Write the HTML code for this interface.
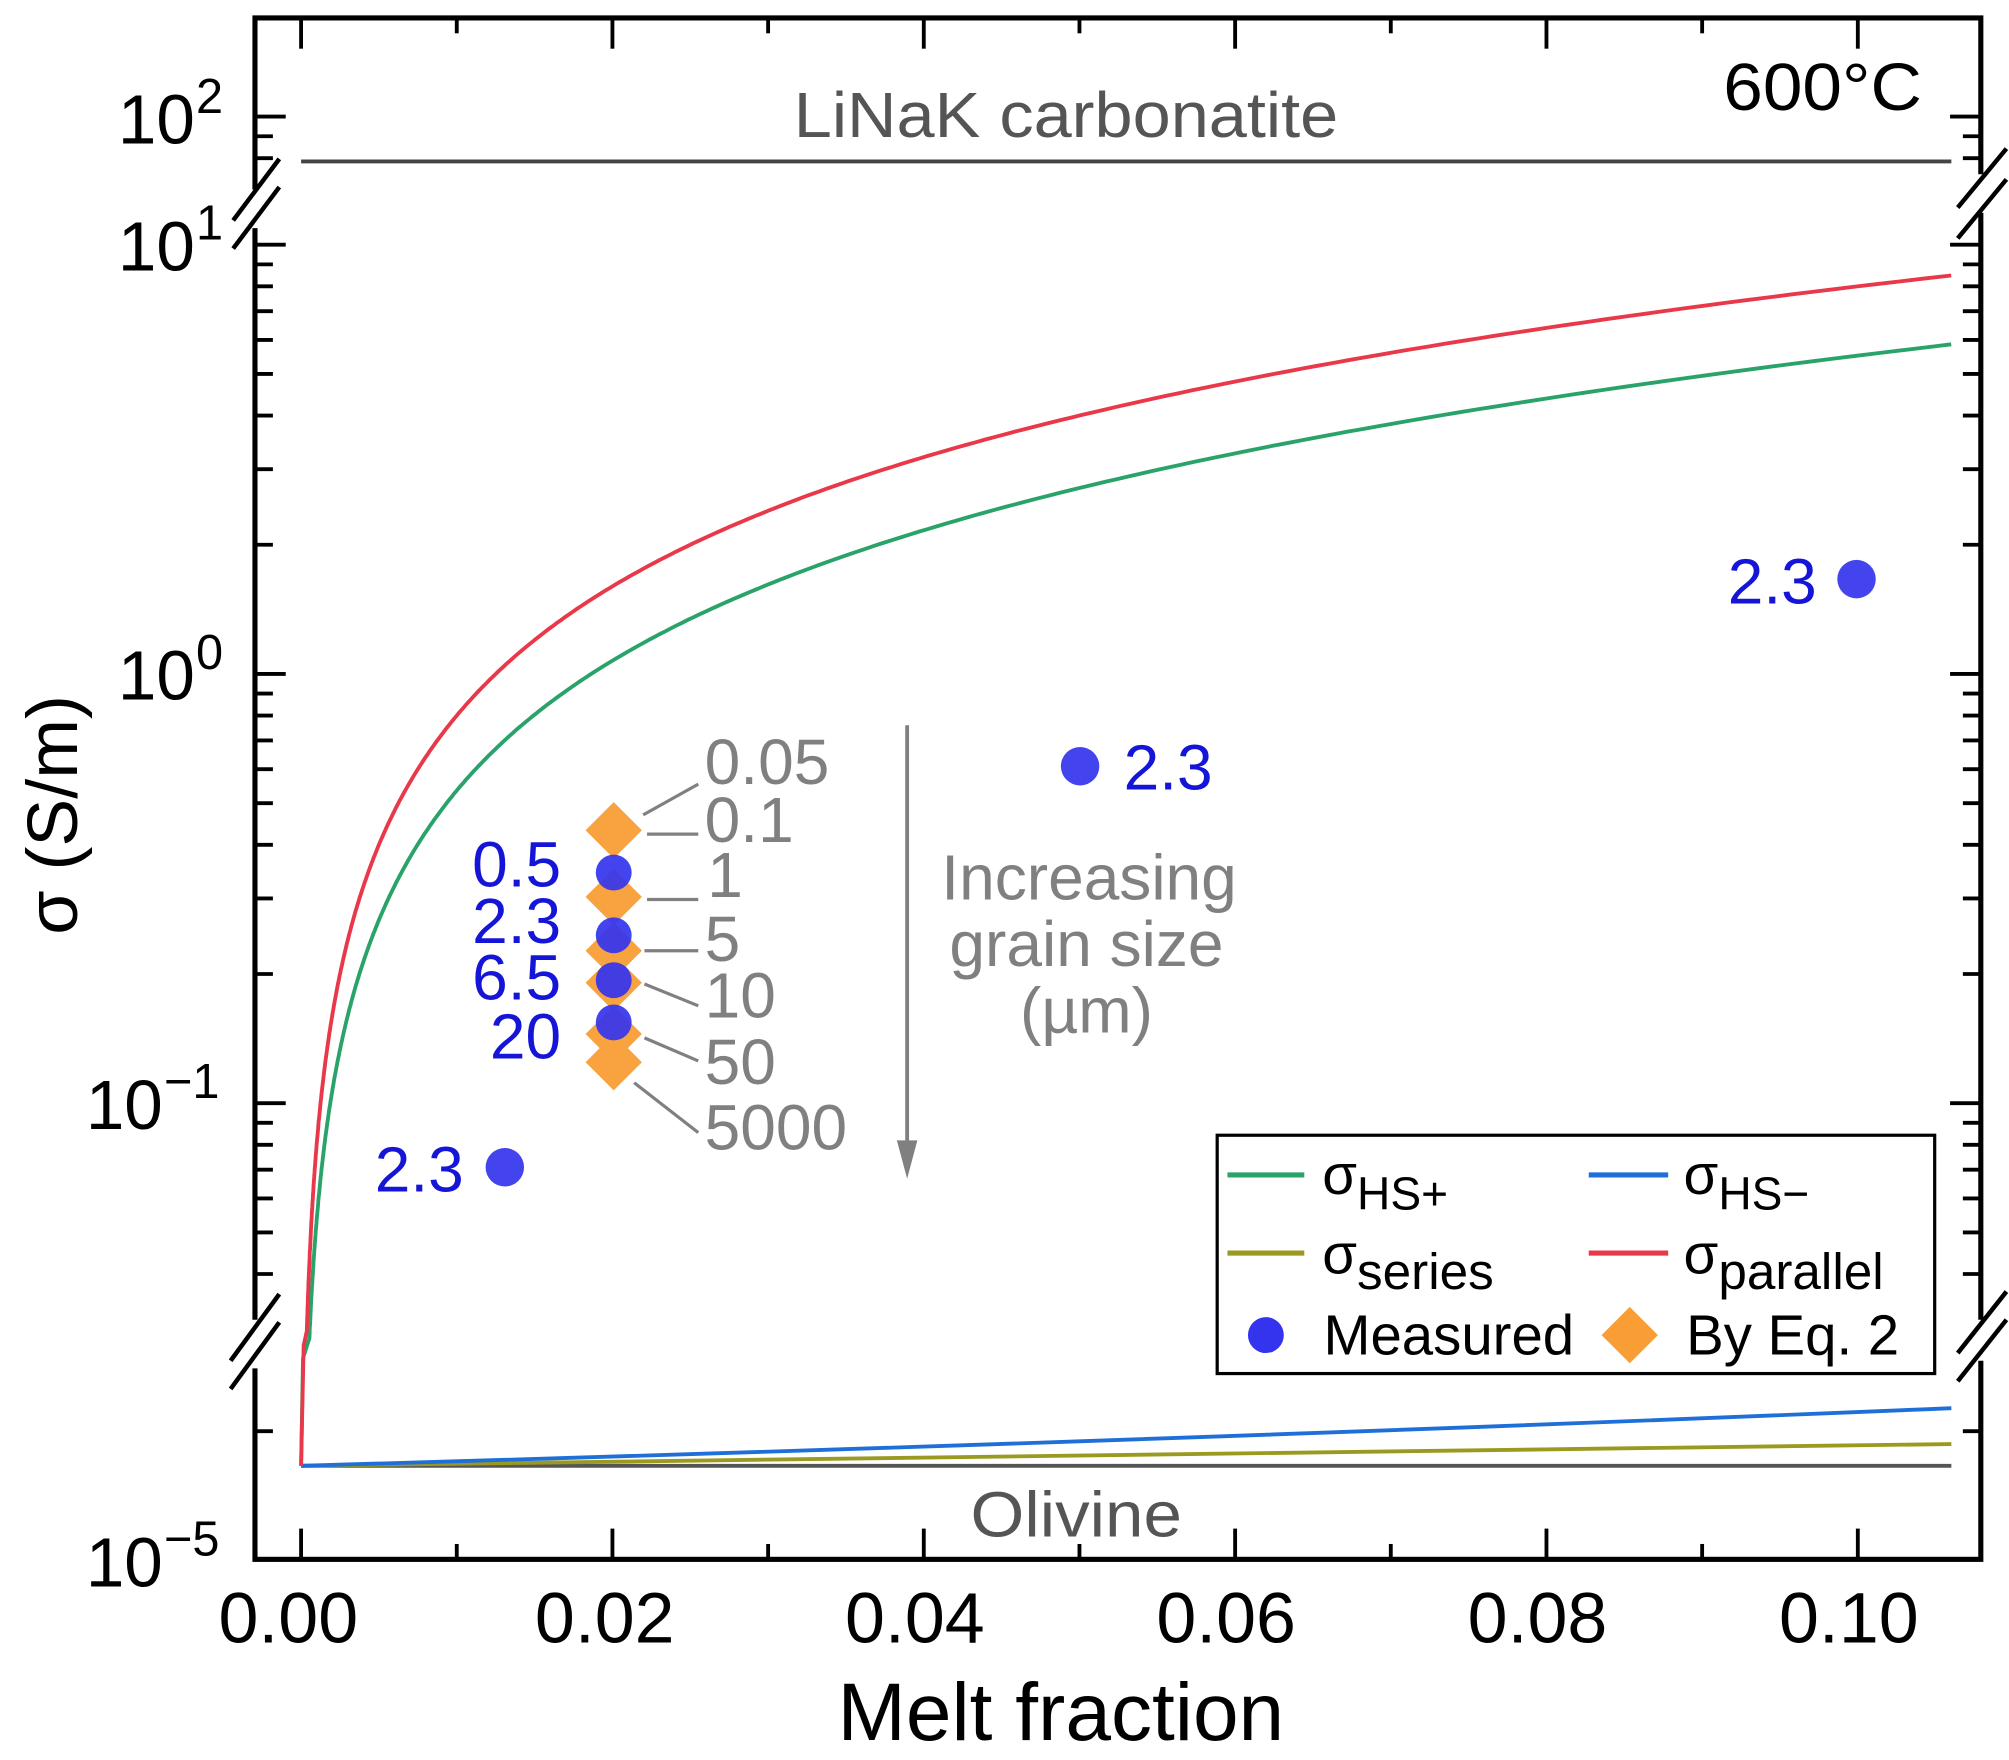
<!DOCTYPE html>
<html><head><meta charset="utf-8"><style>
html,body{margin:0;padding:0;background:#fff}
svg{display:block}
text{font-family:"Liberation Sans",Arial,sans-serif}
</style></head><body>
<svg id="s" width="2009" height="1760" viewBox="0 0 1568 1373.6" preserveAspectRatio="none" xmlns="http://www.w3.org/2000/svg">
<rect x="0" y="0" width="1568" height="1374" fill="#fff"/>
<g id="ticks" stroke="#000" stroke-width="3"></g>
<!-- horizontal reference lines -->
<line x1="235" y1="126" x2="1523" y2="126" stroke="#444" stroke-width="3"/>
<text x="832" y="107" font-size="50" fill="#555" text-anchor="middle" textLength="425" lengthAdjust="spacingAndGlyphs">LiNaK carbonatite</text>
<text x="1500" y="86" font-size="52" fill="#000" text-anchor="end" textLength="155" lengthAdjust="spacingAndGlyphs">600°C</text>
<line x1="235" y1="1144" x2="1523" y2="1144" stroke="#555" stroke-width="3"/>
<text x="840" y="1199" font-size="50" fill="#555" text-anchor="middle" textLength="165" lengthAdjust="spacingAndGlyphs">Olivine</text>
<path d="M235,1144 L1523,1127" stroke="#9a9a20" stroke-width="3" fill="none"/>
<path d="M235,1144 Q900,1125 1523,1099" stroke="#1f6fd8" stroke-width="3" fill="none"/>
<path id="green" stroke="#2aa36a" stroke-width="3" fill="none"/>
<path id="red" stroke="#e8384a" stroke-width="3" fill="none"/>
<!-- axes frame -->
<rect x="199" y="14" width="1347" height="1203" fill="none" stroke="#000" stroke-width="4"/>
<!-- break marks -->
<g stroke="#fff" stroke-width="14">
<line x1="199" y1="148" x2="199" y2="178"/><line x1="199" y1="1030" x2="199" y2="1068"/>
<line x1="1546" y1="136" x2="1546" y2="166"/><line x1="1546" y1="1030" x2="1546" y2="1062"/>
</g>
<g stroke="#000" stroke-width="3.5">
<line x1="182" y1="172" x2="218" y2="124"/><line x1="182" y1="194" x2="218" y2="146"/>
<line x1="180" y1="1062" x2="218" y2="1010"/><line x1="180" y1="1084" x2="218" y2="1032"/>
<line x1="1528" y1="162" x2="1566" y2="116"/><line x1="1528" y1="186" x2="1566" y2="140"/>
<line x1="1528" y1="1056" x2="1566" y2="1008"/><line x1="1528" y1="1078" x2="1566" y2="1030"/>
</g>
<!-- y tick labels -->
<g font-size="54" fill="#000">
<text x="92" y="112">10</text><text x="153" y="88" font-size="38">2</text>
<text x="92" y="211">10</text><text x="153" y="187" font-size="38">1</text>
<text x="92" y="546">10</text><text x="153" y="522" font-size="38">0</text>
<text x="67" y="881">10</text><text x="128" y="857" font-size="38">−1</text>
<text x="67" y="1238">10</text><text x="128" y="1214" font-size="38">−5</text>
</g>
<g font-size="56" fill="#000" text-anchor="middle">
<text x="225" y="1282">0.00</text><text x="472" y="1282">0.02</text><text x="714" y="1282">0.04</text>
<text x="957" y="1282">0.06</text><text x="1200" y="1282">0.08</text><text x="1443" y="1282">0.10</text>
</g>
<text x="828" y="1358" font-size="64" text-anchor="middle" fill="#000">Melt fraction</text>
<text transform="translate(60,636) rotate(-90)" font-size="56" text-anchor="middle" fill="#000">σ (S/m)</text>
<!-- arrow -->
<line x1="708" y1="566" x2="708" y2="895" stroke="#808080" stroke-width="3"/>
<polygon points="700,890 716,890 708,920" fill="#808080"/>
<g font-size="50" fill="#808080" text-anchor="middle">
<text x="850" y="702">Increasing</text><text x="848" y="754">grain size</text><text x="848" y="806">(µm)</text>
</g>
<!-- leader lines -->
<g stroke="#808080" stroke-width="2.5">
<line x1="502" y1="636" x2="545" y2="612"/><line x1="505" y1="651" x2="545" y2="651"/>
<line x1="505" y1="702" x2="545" y2="702"/><line x1="503" y1="742" x2="545" y2="742"/>
<line x1="503" y1="768" x2="545" y2="785"/><line x1="503" y1="810" x2="545" y2="828"/>
<line x1="495" y1="845" x2="545" y2="884"/>
</g>
<g font-size="50" fill="#808080">
<text x="550" y="612">0.05</text><text x="550" y="657">0.1</text><text x="552" y="700">1</text>
<text x="550" y="750">5</text><text x="550" y="794">10</text><text x="550" y="846">50</text><text x="550" y="897">5000</text>
</g>
<!-- markers -->
<g fill="#f7931e" opacity="0.85">
<polygon points="479,626 501,648 479,670 457,648"/>
<polygon points="479,678 501,700 479,722 457,700"/>
<polygon points="479,720 501,742 479,764 457,742"/>
<polygon points="479,745 501,767 479,789 457,767"/>
<polygon points="479,785 501,807 479,829 457,807"/>
<polygon points="479,807 501,829 479,851 457,829"/>
</g>
<g fill="#3434ee" opacity="0.92">
<circle cx="479" cy="681" r="14"/><circle cx="479" cy="730" r="14"/><circle cx="479" cy="765" r="14"/><circle cx="479" cy="798" r="14"/>
<circle cx="394" cy="911" r="15"/><circle cx="843" cy="598" r="15"/><circle cx="1449" cy="452" r="15"/>
</g>
<g font-size="50" fill="#1515d8">
<text x="438" y="692" text-anchor="end">0.5</text><text x="438" y="736" text-anchor="end">2.3</text>
<text x="438" y="780" text-anchor="end">6.5</text><text x="438" y="826" text-anchor="end">20</text>
<text x="362" y="930" text-anchor="end">2.3</text><text x="877" y="616">2.3</text><text x="1418" y="471" text-anchor="end">2.3</text>
</g>
<!-- legend -->
<rect x="950" y="886" width="560" height="186" fill="#fff" stroke="#000" stroke-width="2.5"/>
<line x1="958" y1="917" x2="1018" y2="917" stroke="#2aa36a" stroke-width="4"/>
<line x1="958" y1="978" x2="1018" y2="978" stroke="#9a9a20" stroke-width="4"/>
<line x1="1240" y1="917" x2="1302" y2="917" stroke="#1f6fd8" stroke-width="4"/>
<line x1="1240" y1="978" x2="1302" y2="978" stroke="#e8384a" stroke-width="4"/>
<circle cx="988" cy="1042" r="14" fill="#3434ee"/>
<polygon points="1272,1020 1294,1042 1272,1064 1250,1042" fill="#f7931e" opacity="0.9"/>
<g font-size="44" fill="#000">
<text x="1032" y="932">σ<tspan font-size="36" dy="12">HS+</tspan></text>
<text x="1032" y="994">σ<tspan font-size="40" dy="12">series</tspan></text>
<text x="1314" y="932">σ<tspan font-size="36" dy="12">HS−</tspan></text>
<text x="1314" y="994">σ<tspan font-size="40" dy="12">parallel</tspan></text>
<text x="1033" y="1057">Measured</text>
<text x="1316" y="1057">By Eq. 2</text>
</g>
</svg>
<script>
(function(){
var sm=80,so=1e-5;
function X(p){return 235+p*12150;}
function Y(s){return 526-335*Math.log10(s);}
var g="",r="";var first=true;
for(var i=0;i<=400;i++){
 var p=0.0003*Math.pow(0.106/0.0003,i/400);
 var par=p*sm+(1-p)*so;
 var hs=sm*(2*p/3)/(1-p/3);
 var yg=Y(hs),yr=Y(par);
 if(yg<1045){g+=(g?"L":"M")+X(p).toFixed(1)+","+yg.toFixed(1);}
 if(yr<1040){r+=(r?"L":"M")+X(p).toFixed(1)+","+yr.toFixed(1);}
}
g="M235,1144L236.5,1060"+g.replace(/^M/,"L");
r="M235,1144L237,1050"+r.replace(/^M/,"L");
document.getElementById("green").setAttribute("d",g);
document.getElementById("red").setAttribute("d",r);
var t=document.getElementById("ticks"),h="";
function hl(y,len){h+='<line x1="199" y1="'+y+'" x2="'+(199+len)+'" y2="'+y+'"/><line x1="1546" y1="'+y+'" x2="'+(1546-len)+'" y2="'+y+'"/>';}
hl(91,24);hl(191,24);hl(526,24);hl(861,24);
for(var k=2;k<=9;k++){hl(Y(k/10),14);hl(Y(k),14);}
for(var k=2;k<=9;k++){var y=Y(k/100);if(y<1020)hl(y,14);}
hl(91+335*Math.log10(100/90),14);hl(91+335*Math.log10(100/80),14);
hl(1117,14);
for(var j=0;j<=10;j++){var x=X(j*0.01),L=(j%2==0)?24:12;
 h+='<line x1="'+x+'" y1="1217" x2="'+x+'" y2="'+(1217-L)+'"/><line x1="'+x+'" y1="14" x2="'+x+'" y2="'+(14+L)+'"/>';}
t.innerHTML=h;
})();
</script>
</body></html>
